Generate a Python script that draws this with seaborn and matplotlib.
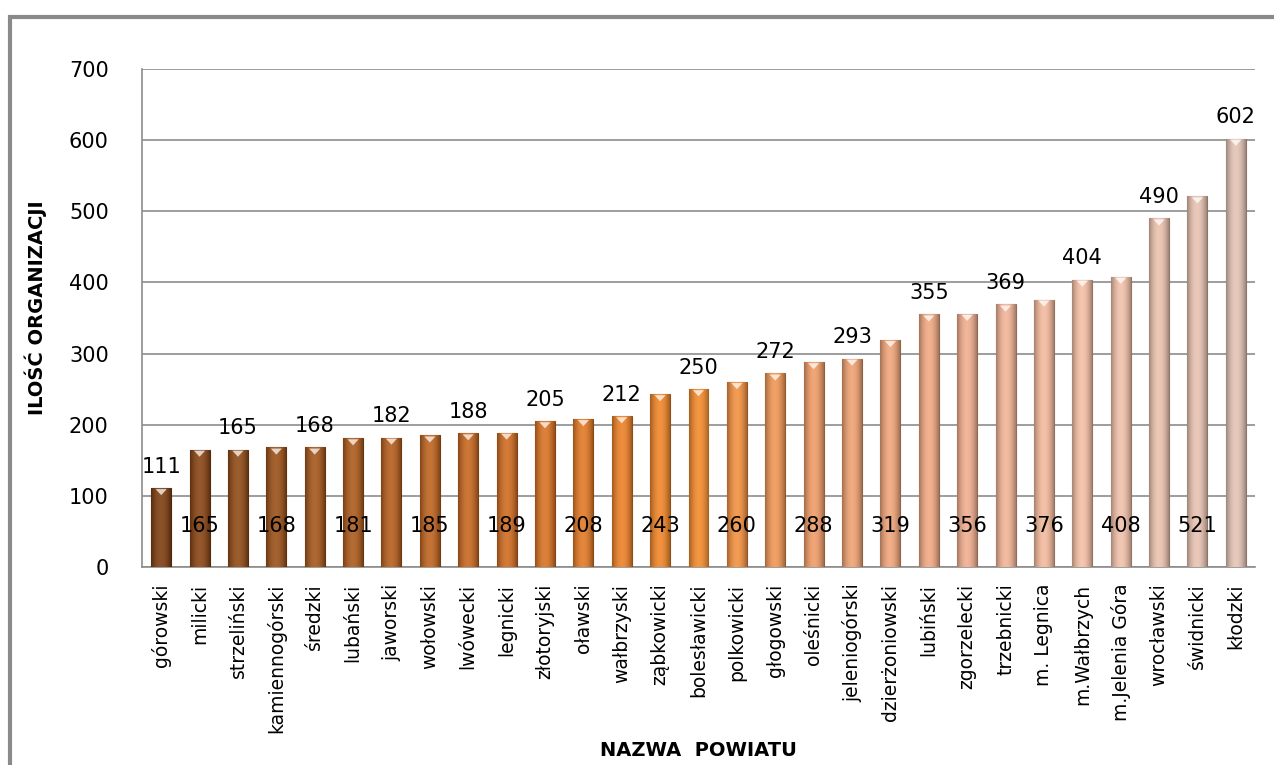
import numpy as np
import pandas as pd
import matplotlib
matplotlib.use("Agg")
import matplotlib.pyplot as plt
import matplotlib.colors as mcolors
from matplotlib.patches import Rectangle
import seaborn as sns

categories = ["górowski", "milicki", "strzeliński", "kamiennogórski", "średzki",
              "lubański", "jaworski", "wołowski", "lwówecki", "legnicki",
              "złotoryjski", "oławski", "wałbrzyski", "ząbkowicki", "bolesławicki",
              "polkowicki", "głogowski", "oleśnicki", "jeleniogórski", "dzierżoniowski",
              "lubiński", "zgorzelecki", "trzebnicki", "m. Legnica", "m.Wałbrzych",
              "m.Jelenia Góra", "wrocławski", "świdnicki", "kłodzki"]
values = [111, 165, 165, 168, 168, 181, 182, 185, 188, 189,
          205, 208, 212, 243, 250, 260, 272, 288, 293, 319,
          355, 356, 369, 376, 404, 408, 490, 521, 602]
y_ticks = [0, 100, 200, 300, 400, 500, 600, 700]
y_title = "ILOŚĆ ORGANIZACJI"
x_title = "NAZWA  POWIATU"

# colour ramp anchors (style): (bar position, colour)
anchor_pos = [0, 4, 9, 12, 14, 17, 21, 24, 28]
anchor_col = ["#7e3f12", "#a5571c", "#cf6c22", "#ec8128", "#f28b2c",
              "#ef9c68", "#f0ae8e", "#f5c0a6", "#e4c4b6"]
n = len(categories)
cmap = mcolors.LinearSegmentedColormap.from_list(
    "ramp", [(p / (n - 1), c) for p, c in zip(anchor_pos, anchor_col)])
colors = [mcolors.to_hex(cmap(i / (n - 1))) for i in range(n)]

sns.set_theme(style="white")
plt.rcParams['font.family'] = ['DejaVu Sans']
plt.rcParams['text.color'] = 'black'
plt.rcParams['axes.labelcolor'] = 'black'
plt.rcParams['xtick.labelcolor'] = 'black'
plt.rcParams['ytick.labelcolor'] = 'black'

fig = plt.figure(figsize=(12.74, 7.65), dpi=100)
ax = fig.add_axes([142 / 1274, 1 - 567 / 765, (1255 - 142) / 1274, (567 - 69) / 765])

df = pd.DataFrame({"powiat": categories, "ilosc": values})
sns.barplot(data=df, x="powiat", y="ilosc", hue="powiat", palette=colors,
            legend=False, width=0.52, ax=ax, saturation=1)

# cylinder shading on bars
grad = np.linspace(-1, 1, 64)
shade = 1 - np.abs(grad) ** 2.0
for p, c in zip(ax.patches, colors):
    base = np.array(mcolors.to_rgb(c))
    dark = base * 0.68
    light = np.clip(base + (1 - base) * 0.10, 0, 1)
    img = dark[None, :] + (light - dark)[None, :] * shade[:, None]
    img = img[None, :, :]
    x0, w, h = p.get_x(), p.get_width(), p.get_height()
    im = ax.imshow(img, extent=[x0, x0 + w, 0, h], aspect="auto", zorder=3,
                   interpolation="bicubic")
    im.set_clip_path(p)
    p.set_edgecolor(mcolors.to_hex(base * 0.6))
    p.set_linewidth(0.8)
    p.set_zorder(3)
    # light cap highlight at top
    cap = np.clip(base + (1 - base) * 0.75, 0, 1)
    ax.fill([x0 + w * 0.22, x0 + w * 0.78, x0 + w * 0.5],
            [h - 1.5, h - 1.5, h - 10], color=cap, zorder=4, lw=0)

ax.set_xlim(-0.5, n - 0.5)
ax.set_ylim(0, 700)
ax.set_yticks(y_ticks)
ax.set_yticklabels([str(t) for t in y_ticks], fontsize=15)
ax.grid(axis="y", color="#8c8c8c", linewidth=1.2, zorder=0)
ax.set_axisbelow(True)

ax.set_xticks(range(n))
ax.set_xticklabels(categories, rotation=90, fontsize=13.5)
ax.set_xticks(np.arange(-0.5, n, 1), minor=True)
ax.tick_params(axis="x", which="major", length=0, pad=12, labelcolor="black")
ax.tick_params(axis="x", which="minor", length=9, color="#8c8c8c", width=1.2, direction="out")
ax.tick_params(axis="y", length=10, color="#8c8c8c", width=1.2, direction="out", pad=14,
               labelcolor="black")

for side in ["top", "right"]:
    ax.spines[side].set_visible(False)
for side in ["left", "bottom"]:
    ax.spines[side].set_color("#8c8c8c")
    ax.spines[side].set_linewidth(1.2)

ax.set_xlabel(x_title, fontsize=14, fontweight="bold", color="black")
ax.set_ylabel(y_title, fontsize=14, fontweight="bold", color="black")
ax.xaxis.set_label_coords(0.5, -0.35)
ax.yaxis.set_label_coords(-0.085, 0.52)

# value labels: alternating above bar / low inside
for i, v in enumerate(values):
    if i % 2 == 0:
        ax.text(i, v + 30, str(v), ha="center", va="center", fontsize=15,
                color="black", zorder=6)
    else:
        ax.text(i, 58, str(v), ha="center", va="center", fontsize=15,
                color="black", zorder=6)

# outer chart frame (cropped at right and bottom)
fig.patches.append(Rectangle((10 / 1274, -0.1), 1.2, 1 - 17 / 765 + 0.1,
                             transform=fig.transFigure, fill=False,
                             edgecolor="#8a8a8a", linewidth=3))

fig.savefig("out.png", dpi=100)
